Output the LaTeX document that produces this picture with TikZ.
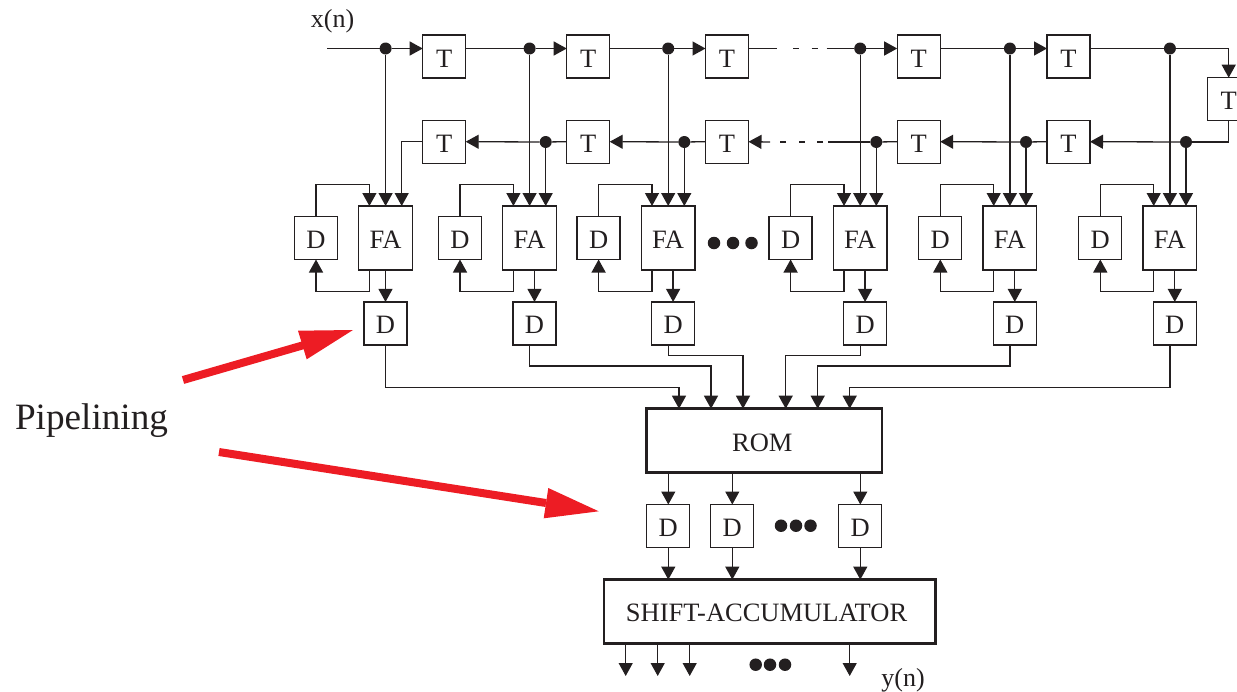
\documentclass[tikz,border=0pt]{standalone}
\usepackage{fontspec}
\setmainfont{Liberation Serif}
\usetikzlibrary{arrows.meta,calc}
\definecolor{ink}{HTML}{231F20}
\definecolor{redarrow}{HTML}{ED1C24}
\tikzset{
  wire/.style={draw=ink,line width=1.3pt},
  arr/.style={wire,-{Triangle[length=13pt,width=14pt]}},
  box/.style={draw=ink,line width=1.3pt,minimum width=43pt,minimum height=43pt,inner sep=0pt,outer sep=0pt,font=\fontsize{26.5}{26.5}\selectfont,text=ink,text height=21pt},
  fabox/.style={box,minimum width=53.6pt,minimum height=64pt},
  bigbox/.style={box,line width=2.6pt,minimum height=64pt},
  dot/.style={circle,fill=ink,draw=none,minimum size=12pt,inner sep=0pt,outer sep=0pt},
  bdot/.style={circle,fill=ink,draw=none,minimum size=12.5pt,inner sep=0pt,outer sep=0pt},
  lbl/.style={font=\fontsize{26}{26}\selectfont,text=ink,inner sep=0pt},
  dashseg/.style={wire,dash pattern=on 6pt off 12.4pt},
  redline/.style={draw=redarrow,line width=8pt},
}
\begin{document}
\begin{tikzpicture}[x=1pt,y=-1pt]
\useasboundingbox (0,0) rectangle (1237,691);
\node[lbl] (xn) at (332.5,21) {x(n)};
\node[lbl] (yn) at (903,680) {y(n)};
\node[font=\fontsize{37.2}{37.2}\selectfont,text=ink,inner sep=0pt] (pipe) at (91.5,421) {Pipelining};
\coordinate (in) at (327,48.5);
% delay lines
\foreach \i/\x in {1/444.2,2/588.2,3/727,4/918.7,5/1068.5}{
  \node[box] (tt\i) at (\x,56.5) {T};
  \node[box] (bt\i) at (\x,141.7) {T};
}
\node[box] (tr) at (1228.7,99.2) {T};
% ROM, registers, accumulator
\node[bigbox,minimum width=235.3pt] (rom) at (764.3,440.7) {\hspace*{-4pt}ROM};
\node[bigbox,minimum width=331.3pt] (sa) at (769.6,611.6) {\hspace*{-6pt}SHIFT-ACCUMULATOR};
% groups
\foreach \i/\o/\s in {1/0/0,2/144/5,3/282.6/5,4/474.6/5,5/624.3/5,6/784.3/5}{
  \node[dot] (td\i) at ({385.6+\o},48.5) {};
  \node[box] (dl\i) at ({316+\o},238) {D};
  \node[fabox] (fa\i) at ({385.5+\o},238) {FA};
  \node[box] (p\i) at ({385.5+\o+\s},323.4) {D};
  \coordinate (fb\i) at ({369.4+\o},206);
  \coordinate (fc\i) at ({369.4+\o},270);
  \coordinate (ft\i) at ({369.4+\o},184.7);
  \coordinate (fd\i) at ({316+\o},291.3);
  \draw[arr] (td\i) -- (td\i |- fa\i.north);
  \draw[arr] (dl\i.north) |- (ft\i) -- (fb\i);
  \draw[arr] (fc\i) |- (fd\i) -- (dl\i.south);
  \draw[arr] (fa\i.south -| p\i) -- (p\i.north);
}
\foreach \i/\o in {2/144,3/282.6,4/474.6,5/624.3,6/784.3}{
  \node[dot] (bd\i) at ({401.7+\o},142) {};
}
\coordinate (bd1) at (401.7,142);
% top line
\draw[wire] (in) -- (td1);
\draw[arr] (td1) -- (td1 -| tt1.west);
\draw[wire] (tt1.east |- td1) -- (td2);
\draw[arr] (td2) -- (td2 -| tt2.west);
\draw[wire] (tt2.east |- td2) -- (td3);
\draw[arr] (td3) -- (td3 -| tt3.west);
\coordinate (ds0) at (777,48.5);
\coordinate (ds1) at (793.3,48.5);
\coordinate (ds2) at (817.7,48.5);
\coordinate (ds9) at (826.7,48.5);
\draw[wire] (tt3.east |- td3) -- (ds0);
\draw[dashseg] (ds1) -- (ds2);
\draw[wire] (ds9) -- (td4);
\draw[arr] (td4) -- (td4 -| tt4.west);
\draw[wire] (tt4.east |- td4) -- (td5);
\draw[arr] (td5) -- (td5 -| tt5.west);
\draw[wire] (tt5.east |- td5) -- (td6);
\draw[arr] (td6) -| (tr.north);
% bottom line
\draw[wire] (tr.south) |- (bd6);
\draw[arr] (bd6) -- (bt5.east);
\draw[wire] (bt5.west) -- (bd5);
\draw[arr] (bd5) -- (bt4.east);
\draw[wire] (bt4.west) -- (bd4);
\coordinate (ds3) at (828,142);
\coordinate (ds4) at (823,142);
\coordinate (ds5) at (780,142);
\coordinate (ds6) at (770,142);
\draw[wire] (bd4) -- (ds3);
\draw[dashseg] (ds4) -- (ds5);
\draw[arr] (ds6) -- (bt3.east);
\draw[wire] (bt3.west) -- (bd3);
\draw[arr] (bd3) -- (bt2.east);
\draw[wire] (bt2.west) -- (bd2);
\draw[arr] (bd2) -- (bt1.east);
\draw[arr] (bt1.west) -| (fa1.north -| bd1);
\foreach \i in {2,...,6}{\draw[arr] (bd\i) -- (bd\i |- fa\i.north);}
% pipeline registers into the ROM
\foreach \i/\xr/\yr in {1/679/387.3,2/711/366,3/743/355.3,4/785.7/355.3,5/817.7/366,6/849.7/387.3}{
  \coordinate (rr\i) at (\xr,\yr);
  \draw[arr] (td\i |- p\i.south) |- (rr\i) -- (rr\i |- rom.north);
}
% output registers
\foreach \i/\x in {1/668.3,2/732.3,3/860.3}{
  \node[box] (q\i) at (\x,526) {D};
  \draw[arr] (q\i |- rom.south) -- (q\i.north);
  \draw[arr] (q\i.south) -- (q\i |- sa.north);
}
% outputs
\foreach \i/\x in {1/625.7,2/657.7,3/689.7,4/849.7}{
  \coordinate (o\i) at (\x,676);
  \draw[arr] (o\i |- sa.south) -- (o\i);
}
% ellipsis dots
\foreach \i/\x/\y in {a/714/243,b/733/243,c/751.5/243,d/781/525.7,e/796/525.7,f/810.5/525.7,g/755.7/664.7,h/770/664.7,i/785/664.7}{
  \node[bdot] (e\i) at (\x,\y) {};
}
% red arrows
\coordinate (ra) at (183,380);
\coordinate (rb) at (304,345);
\coordinate (rc) at (219,452);
\coordinate (rd) at (546,503);
\draw[redline] (ra) -- (rb);
\fill[redarrow] (353,330) -- (298,330.7) -- (306.7,359.3) -- cycle;
\draw[redline] (rc) -- (rd);
\fill[redarrow] (598.7,511.3) -- (548.3,488) -- (543.7,518.3) -- cycle;
\end{tikzpicture}
\end{document}
